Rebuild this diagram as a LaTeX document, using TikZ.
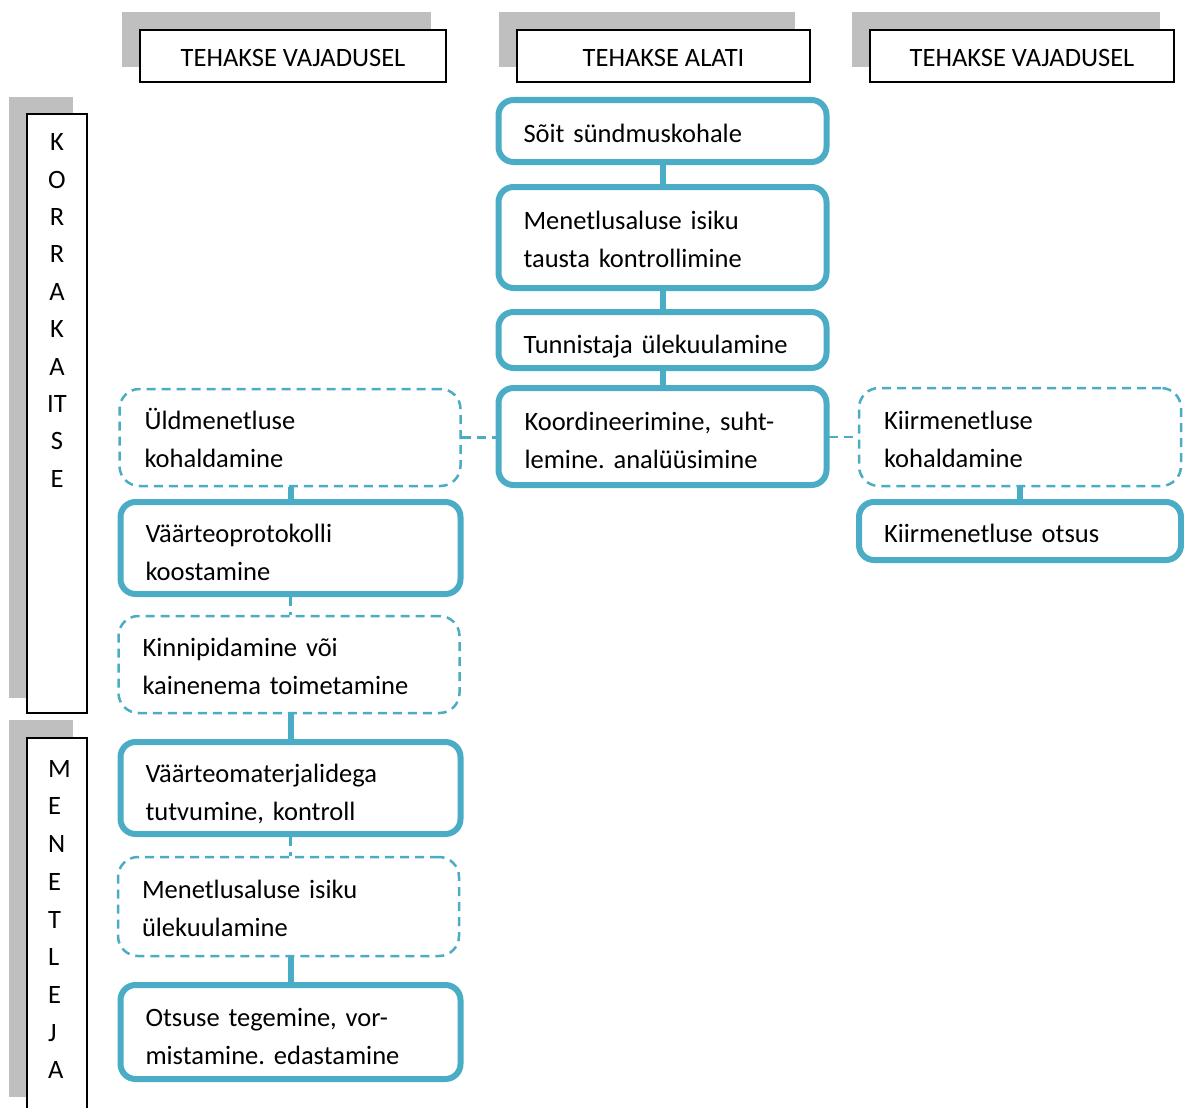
\documentclass[tikz,border=0pt]{standalone}
\usepackage{fontspec}
\setmainfont{Carlito}
\frenchspacing
\definecolor{blu}{HTML}{4BACC6}
\definecolor{shd}{HTML}{BFBFBF}
\newcommand\Tp{\rule{0pt}{38pt}}
\newcommand\Td{\rule{0pt}{34pt}}
\newcommand\Bt{\rule[-12pt]{0pt}{12pt}}
\begin{document}
\begin{tikzpicture}[x=1pt,y=-1pt,
  txt/.style={font=\fontsize{26.5}{38}\selectfont\frenchspacing},
  solidbox/.style={draw=blu, line width=6pt, rounded corners=15pt, fill=white, txt, align=left, inner xsep=25pt, inner ysep=0pt},
  dashbox/.style={draw=blu, line width=2.5pt, dash pattern=on 9pt off 6pt, rounded corners=20pt, fill=white, txt, align=left, inner xsep=25pt, inner ysep=0pt},
  shadowbox/.style={fill=shd, inner sep=0pt},
  hdrbox/.style={draw=black, line width=2pt, fill=white, txt, inner sep=0pt, text height=26pt, text depth=5pt},
  thicklink/.style={draw=blu, line width=6pt},
  thinlink/.style={draw=blu, line width=2.5pt, dash pattern=on 9pt off 6pt},
  dashlink/.style={draw=blu, line width=2.5pt, dash pattern=on 9pt off 6pt},
  letters/.style={font=\fontsize{26.5}{37.4}\selectfont, inner sep=0pt},
  letters2/.style={font=\fontsize{26.5}{37.7}\selectfont, inner sep=0pt}]
\useasboundingbox (0,0) rectangle (1184,1108);
\clip (0,0) rectangle (1184,1108);

% headers
\node[shadowbox, minimum width=309pt, minimum height=55pt] (s1) at (276.5,39.5) {};
\node[hdrbox, minimum width=306pt, minimum height=52pt] (h1) at (293,56) {TEHAKSE VAJADUSEL};
\node[shadowbox, minimum width=296pt, minimum height=55pt] (s2) at (647,39.5) {};
\node[hdrbox, minimum width=293pt, minimum height=52pt] (h2) at (663.5,56) {TEHAKSE ALATI};
\node[shadowbox, minimum width=308pt, minimum height=55pt] (s3) at (1006,39.5) {};
\node[hdrbox, minimum width=304pt, minimum height=52pt] (h3) at (1022,56) {TEHAKSE VAJADUSEL};

% side bars
\node[shadowbox, minimum width=64pt, minimum height=601pt] (s4) at (41,397.5) {};
\node[hdrbox, minimum width=60pt, minimum height=599pt] (v1) at (57,413.5) {};
\node[letters, align=center, anchor=north] (v1t) at (57,133.5) {K\\O\\R\\R\\A\\K\\A\\IT\\S\\E};
\node[shadowbox, minimum width=64pt, minimum height=377pt] (s5) at (41,908.5) {};
\node[hdrbox, minimum width=60pt, minimum height=382pt] (v2) at (57,929) {};
\node[letters2, align=left, anchor=north west] (v2t) at (48,760) {M\\E\\N\\E\\T\\L\\E\\J\\A};

% center column
\node[solidbox, text width=278pt, minimum height=62pt] (b1) at (662.5,131) {\Td Sõit sündmuskohale\Bt};
\node[solidbox, text width=278pt, minimum height=101pt] (b2) at (662.5,237.5) {\Td Menetlusaluse isiku\\tausta kontrollimine\Bt};
\node[solidbox, text width=278pt, minimum height=56pt] (b3) at (662.5,340) {\Tp Tunnistaja ülekuulamine\Bt};
\node[solidbox, text width=276pt, minimum height=97pt, inner xsep=26pt] (b4) at (662.5,436.5) {\Tp Koordineerimine, suht-\\lemine. analüüsimine\Bt};

% left column
\node[dashbox, text width=291pt, minimum height=97pt] (l1) at (290,437.5) {\Td Üldmenetluse\\kohaldamine\Bt};
\node[solidbox, text width=290pt, minimum height=92pt] (l2) at (290.5,548) {\Tp Väärteoprotokolli\\koostamine\Bt};
\node[dashbox, text width=293pt, minimum height=97pt, inner xsep=24pt] (l3) at (289,664.5) {\Td Kinnipidamine või\\kainenema toimetamine\Bt};
\node[solidbox, text width=290pt, minimum height=92pt] (l4) at (290.5,788) {\Tp Väärteomaterjalidega\\tutvumine, kontroll\Bt};
\node[dashbox, text width=293pt, minimum height=99pt, inner xsep=24pt] (l5) at (288.5,906.5) {\Td Menetlusaluse isiku\\ülekuulamine\Bt};
\node[solidbox, text width=290pt, minimum height=94pt] (l6) at (290.5,1032) {\Tp Otsuse tegemine, vor-\\mistamine. edastamine\Bt};

% right column
\node[dashbox, text width=272pt, minimum height=98pt] (r1) at (1020,437) {\Td Kiirmenetluse\\kohaldamine\Bt};
\node[solidbox, text width=272pt, minimum height=58pt] (r2) at (1020,531) {\Td Kiirmenetluse otsus\Bt};

% connectors
\draw[thicklink] (b1.south) -- (b2.north);
\draw[thicklink] (b2.south) -- (b3.north);
\draw[thicklink] (b3.south) -- (b4.north);
\draw[thicklink] (l2.north |- l1.south) -- (l2.north);
\draw[thinlink] (l2.south) -- (l2.south |- l3.north);
\draw[thicklink] (l4.north |- l3.south) -- (l4.north);
\draw[thinlink] (l4.south) -- (l4.south |- l5.north);
\draw[thicklink] (l6.north |- l5.south) -- (l6.north);
\draw[thicklink] (r1.south) -- (r2.north);
\draw[dashlink] (l1.east) -- (l1.east -| b4.west);
\draw[dashlink] (b4.east) -- (b4.east |- r1.west) -- (r1.west);
\end{tikzpicture}
\end{document}
